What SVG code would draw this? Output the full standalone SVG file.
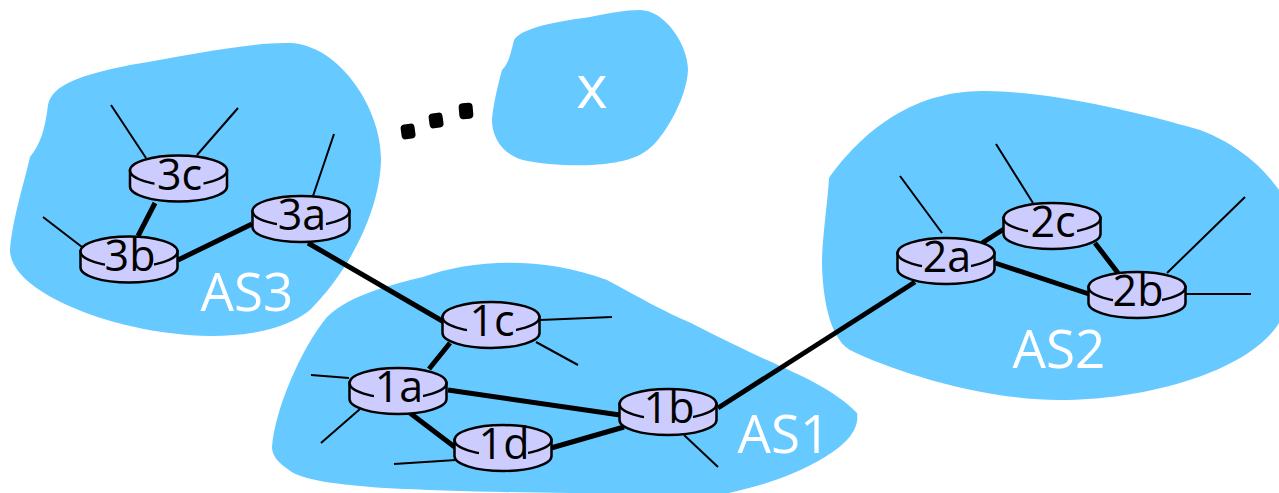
<svg xmlns="http://www.w3.org/2000/svg" width="1279" height="493" viewBox="0 0 1279 493">
<style>
.as{fill:#66c9ff;stroke:none}
.thin{stroke:#000;stroke-width:2;fill:none}
.thick{stroke:#000;stroke-width:5;fill:none}
.body{fill:#ccccff;stroke:#000;stroke-width:2.5}
.gap{fill:#ccccff;stroke:none}
.rl{font-family:"Open Sans","DejaVu Sans",sans-serif;font-size:43px;fill:#000;text-anchor:middle}
.al{font-family:"Open Sans","DejaVu Sans",sans-serif;font-size:53px;fill:#fff;text-anchor:middle}
</style>
<defs>
<g id="router">
<path class="body" d="M-48.500 0V16A48.500 15 0 0 0 48.500 16V0Z"/>
<ellipse class="body" cx="0" cy="0" rx="48.500" ry="15"/>
<rect class="gap" x="-24" y="4" width="49" height="14"/>
</g>
</defs>
<g id="as3"><path class="as" d="M30 157C40 145 45 130 48 105C52 85 80 75 130 65C190 55 250 42 290 43C340 45 382 110 381 160C380 210 350 270 310 310C280 335 220 340 170 333C100 325 10 290 10 250C12 220 25 180 30 157Z"/></g>
<g id="as1"><path class="as" d="M272 447C275 410 300 350 327 317C350 295 390 285 423 277C470 260 540 255 607 280C640 298 665 312 691 323C720 338 745 350 767 360C800 375 835 390 857 413C860 430 845 445 825 457C795 475 765 485 729 493C610 494 480 493 385 488C340 485 300 480 289 470C278 463 272 455 272 447Z"/></g>
<g id="as2"><path class="as" d="M829 178C860 135 910 90 985 91C1050 92 1130 110 1200 130C1240 145 1265 170 1279 190V323C1250 370 1150 400 1060 400C980 400 890 370 850 350C825 335 822 280 822 260C823 230 828 200 829 178Z"/></g>
<g id="asx"><path class="as" d="M502 70C508 64 510 57 514 40C520 30 545 23 590 17C610 13 625 10 640 10C665 10 688 45 688 70C687 100 660 145 643 153C620 168 560 168 523 160C505 155 492 140 492 120C493 105 498 85 502 70Z"/><text class="al" x="592" y="108" style="font-size:60px">x</text></g>
<g id="dots">
<rect x="401" y="124" width="14" height="15" rx="4" transform="rotate(-8 408 131)"/>
<rect x="429" y="113" width="14" height="15" rx="4" transform="rotate(-8 436 120)"/>
<rect x="459" y="103" width="14" height="16" rx="4" transform="rotate(-5 466 111)"/>
</g>
<g id="connectors">
<path class="thin" d="M111 105L146 158M238 108L197 155M43 217L82 247M334 134L313 196M540 320L612 317M536 342L578 365M311 375L349 378M360 409L321 443M394 464L456 460M684 435L718 467M900 176L942 233M996 144L1033 203M1245 197L1167 273M1185 294L1251 294"/>
<path class="thick" d="M155 203L138 236M178 260L252 224M308 243L444 322M450 343L429 369M448 390L620 415M551 448L624 427M410 413L456 448M718 408L915 282M982 243L1004 229M1095 243L1118 273M995 263L1089 294"/>
</g>
<g id="r3c" transform="translate(178.500 170.500)"><use href="#router"/><text class="rl" x="1" y="19">3c</text></g>
<g id="r3b" transform="translate(129 251.500)"><use href="#router"/><text class="rl" x="1" y="19">3b</text></g>
<g id="r3a" transform="translate(301 211)"><use href="#router"/><text class="rl" x="1" y="19">3a</text></g>
<g id="r1c" transform="translate(491 317)"><use href="#router"/><text class="rl" x="1" y="19">1c</text></g>
<g id="r1a" transform="translate(398 383)"><use href="#router"/><text class="rl" x="1" y="19">1a</text></g>
<g id="r1d" transform="translate(503 440)"><use href="#router"/><text class="rl" x="1" y="19">1d</text></g>
<g id="r1b" transform="translate(668 404)"><use href="#router"/><text class="rl" x="1" y="19">1b</text></g>
<g id="r2a" transform="translate(946 253)"><use href="#router"/><text class="rl" x="1" y="19">2a</text></g>
<g id="r2c" transform="translate(1052 218)"><use href="#router"/><text class="rl" x="1" y="19">2c</text></g>
<g id="r2b" transform="translate(1137 287)"><use href="#router"/><text class="rl" x="1" y="19">2b</text></g>
<text class="al" x="247" y="311">AS3</text>
<text class="al" x="784" y="453">AS1</text>
<text class="al" x="1059" y="368">AS2</text>
</svg>
